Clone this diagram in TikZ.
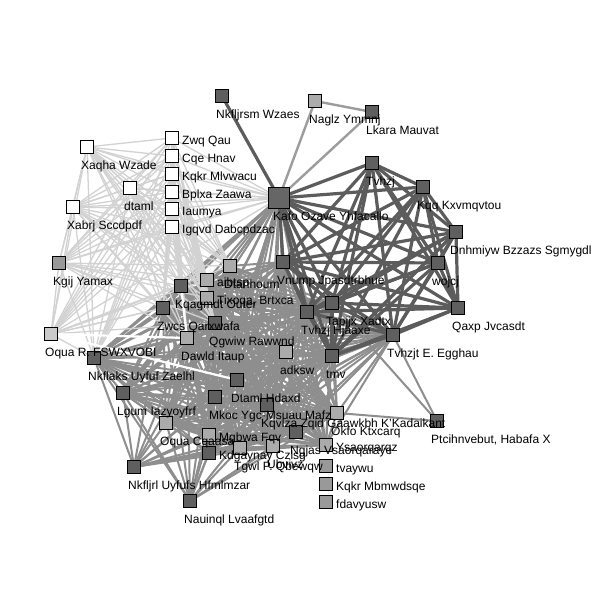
\documentclass[tikz,border=0pt]{standalone}
\usepackage{fontspec}
\setmainfont{Liberation Sans}
\pgfdeclarelayer{bg}
\pgfdeclarelayer{fg}
\pgfsetlayers{bg,main,fg}
\definecolor{ndark}{HTML}{5F5F5F}
\definecolor{nkafo}{HTML}{666666}
\definecolor{nmed}{HTML}{999999}
\definecolor{nlight}{HTML}{ABABAB}
\definecolor{npale}{HTML}{CACACA}
\definecolor{ecore}{HTML}{8E8E8E}
\definecolor{edark}{HTML}{5C5C5C}
\definecolor{elight}{HTML}{D2D2D2}
\definecolor{emid}{HTML}{9C9C9C}
\tikzset{
  box/.style={draw=black, line width=0.8pt, minimum size=13pt, inner sep=0pt, outer sep=0pt},
  bigbox/.style={minimum size=21pt},
  lbl/.style={inner sep=0pt, font=\fontsize{12}{14}\selectfont, anchor=base west, text=black},
  coreE/.style={draw=ecore, line width=2pt},
  darkE/.style={draw=edark, line width=3.2pt},
  lightE/.style={draw=elight, line width=1.3pt},
  midE/.style={draw=emid, line width=2.4pt},
  whiteE/.style={draw=white, line width=2.2pt},
}
% box with label below right
\newcommand\nb[5]{\node[box,#4] (#1) at (#2,#3) {};
  \begin{pgfonlayer}{fg}\node[lbl] (#1l) at (#2-6,#3+22.5) {#5};\end{pgfonlayer}}
% box with label to the right
\newcommand\nr[5]{\node[box,#4] (#1) at (#2,#3) {};
  \begin{pgfonlayer}{fg}\node[lbl] (#1l) at (#2+10,#3+6.5) {#5};\end{pgfonlayer}}
\begin{document}
\begin{tikzpicture}[x=1pt,y=-1pt]
\begin{pgfonlayer}{bg}
\fill[white] (0,0) rectangle (595,610);
\end{pgfonlayer}
\useasboundingbox (0,0) rectangle (595,610);
% white group
\nr{zwq}{172}{138}{fill=white}{Zwq Qau}
\nr{cqe}{172}{156}{fill=white}{Cqe Hnav}
\nr{kqkrm}{172}{174}{fill=white}{Kqkr Mlvwacu}
\nr{bplxa}{172}{192}{fill=white}{Bplxa Zaawa}
\nr{iaum}{172}{209}{fill=white}{Iaumya}
\nr{igqvd}{172}{227}{fill=white}{Igqvd Dabcpdzac}
\nb{xaqha}{87}{147}{fill=white}{Xaqha Wzade}
\nb{dtaml}{130}{188}{fill=white}{dtaml}
\nb{xabrj}{73}{207}{fill=white}{Xabrj Sccdpdf}
\nb{kgij}{59}{263}{fill=nmed}{Kgij Yamax}
\nb{oquar}{51}{334}{fill=npale}{Oqua R. FSWXVOBI}
% top
\nb{nkfs}{222}{96}{fill=ndark}{Nkfljrsm Wzaes}
\nb{naglz}{315}{101}{fill=nlight}{Naglz Ymmnj}
\nb{lkara}{372}{112}{fill=ndark}{Lkara Mauvat}
\nb{kafo}{279}{198}{fill=nkafo,bigbox}{Kafo Ozave Yhfacallo}
% right cluster
\nb{tvhzj}{372}{163}{fill=ndark}{Tvhzj}
\nb{kqq}{423}{187}{fill=ndark}{Kqq Kxvmqvtou}
\nb{dnhm}{456}{232}{fill=ndark}{Dnhmiyw Bzzazs Sgmygdl}
\nb{wojcj}{438}{263}{fill=ndark}{wojcj}
\nb{qaxp}{458}{308}{fill=ndark}{Qaxp Jvcasdt}
\nb{tvhzjt}{393}{335}{fill=ndark}{Tvhzjt E. Egghau}
\nb{vnump}{283}{262}{fill=ndark}{Vnump Jpasdtrbhue}
\nb{tapjjx}{332}{303}{fill=ndark}{Tapjjx Xadtx}
\nb{tvhzjh}{307}{312}{fill=ndark}{Tvhzj Hjaaxe}
\nb{tmv}{332}{356}{fill=ndark}{tmv}
% core
\nb{adksw}{286}{352}{fill=nlight}{adksw}
\nb{dtanh}{230}{266}{fill=nlight}{Dtanhoum}
\nr{aibtsp}{207}{280}{fill=nlight}{aibtsp}
\nr{tixoqa}{207}{298}{fill=nlight}{Tixoqa, Brtxca}
\nb{kqag}{181}{286}{fill=ndark}{Kqagmdt Outer}
\nb{zwcs}{163}{308}{fill=ndark}{Zwcs Qarxwafa}
\nb{qgwiw}{215}{323}{fill=ndark}{Qgwiw Rawwnd}
\nb{dawld}{187}{338}{fill=nlight}{Dawld Itaup}
\nb{nkflaks}{94}{358}{fill=ndark}{Nkflaks Uyfuf Zaelhl}
\nb{lgum}{123}{393}{fill=ndark}{Lgum Iazyoyfrf}
\nb{dtamlh}{237}{380}{fill=ndark}{Dtaml Hdaxd}
\nb{mkoc}{215}{397}{fill=ndark}{Mkoc Ygc-Msuau Mafz}
\nb{kqvlza}{267}{405}{fill=ndark}{Kqvlza Zqid Gaawkbh K'Kadaikant}
\nb{okfo}{337}{413}{fill=nlight}{Okfo Ktxcarq}
\nb{oquac}{166}{423}{fill=nlight}{Oqua Cqaasa}
\nr{mgbwa}{209}{435}{fill=nlight}{Mgbwa Fqv}
\nr{kdgay}{209}{453}{fill=ndark}{Kdgaynay Czlsg}
\nb{tgwl}{240}{448}{fill=nlight}{Tgwl P. Qbewqw}
\nb{ubviv}{273}{446}{fill=nlight}{Ubvivz}
\nb{ngjas}{296}{432}{fill=ndark}{Ngjas Vsaorqaraye}
\nr{vsaor}{326}{445}{fill=nlight}{Ysaorqarqz}
\nr{tvay}{326}{466}{fill=nmed}{tvaywu}
\nr{kqkrb}{326}{484}{fill=nmed}{Kqkr Mbmwdsqe}
\nr{fdav}{326}{502}{fill=nmed}{fdavyusw}
\nb{ptci}{437}{421}{fill=ndark}{Ptcihnvebut, Habafa X}
\nb{nkfljrl}{134}{467}{fill=ndark}{Nkfljrl Uyfufs Hfmlmzar}
\nb{nauinql}{190}{501}{fill=ndark}{Nauinql Lvaafgtd}
\begin{pgfonlayer}{bg}
\def\corelist{kafo,vnump,tvhzjh,tapjjx,tmv,tvhzjt,adksw,dtanh,aibtsp,tixoqa,kqag,zwcs,qgwiw,dawld,nkflaks,lgum,dtamlh,mkoc,kqvlza,okfo,oquac,mgbwa,kdgay,tgwl,ubviv,ngjas,vsaor}
\foreach \a [count=\i] in \corelist {
  \foreach \b [count=\j] in \corelist {
    \ifnum\j>\i \draw[coreE] (\a) -- (\b); \fi
  }
}
\foreach \a in {nkfljrl,nauinql} {
  \foreach \b in {lgum,nkflaks,oquac,mkoc,mgbwa,kdgay,tgwl,ubviv,dtamlh,kqvlza,ngjas,dawld,zwcs,qgwiw,okfo} {
    \draw[coreE] (\a) -- (\b);
  }
}
\draw[coreE] (tvhzjt) -- (ptci);
\draw[coreE] (tapjjx) -- (ptci);
\draw[coreE] (okfo) -- (ptci);
\def\darklist{kafo,tvhzj,kqq,dnhm,wojcj,qaxp,tvhzjt,vnump,tapjjx,tvhzjh,tmv}
\foreach \a [count=\i] in \darklist {
  \foreach \b [count=\j] in \darklist {
    \ifnum\j>\i \draw[darkE] (\a) -- (\b); \fi
  }
}
\draw[darkE] (kafo) -- (nkfs);
\draw[midE] (kafo) -- (naglz);
\draw[midE] (kafo) -- (lkara);
\draw[midE] (naglz) -- (lkara);
\def\wlist{zwq,cqe,kqkrm,bplxa,iaum,igqvd,xaqha,dtaml,xabrj,kgij,oquar}
\foreach \a [count=\i] in \wlist {
  \foreach \b [count=\j] in \wlist {
    \ifnum\j>\i \draw[lightE] (\a) -- (\b); \fi
  }
}
\foreach \a in \wlist {
  \foreach \b in {dtanh,aibtsp,tixoqa,kqag,zwcs,dawld,qgwiw,nkflaks,kafo} {
    \draw[lightE] (\a) -- (\b);
  }
}
\draw[whiteE] (oquar) -- (dawld);
\draw[whiteE] (oquar) -- (dtamlh);
\draw[whiteE] (kqag) -- (dawld);
\end{pgfonlayer}
\end{tikzpicture}
\end{document}
